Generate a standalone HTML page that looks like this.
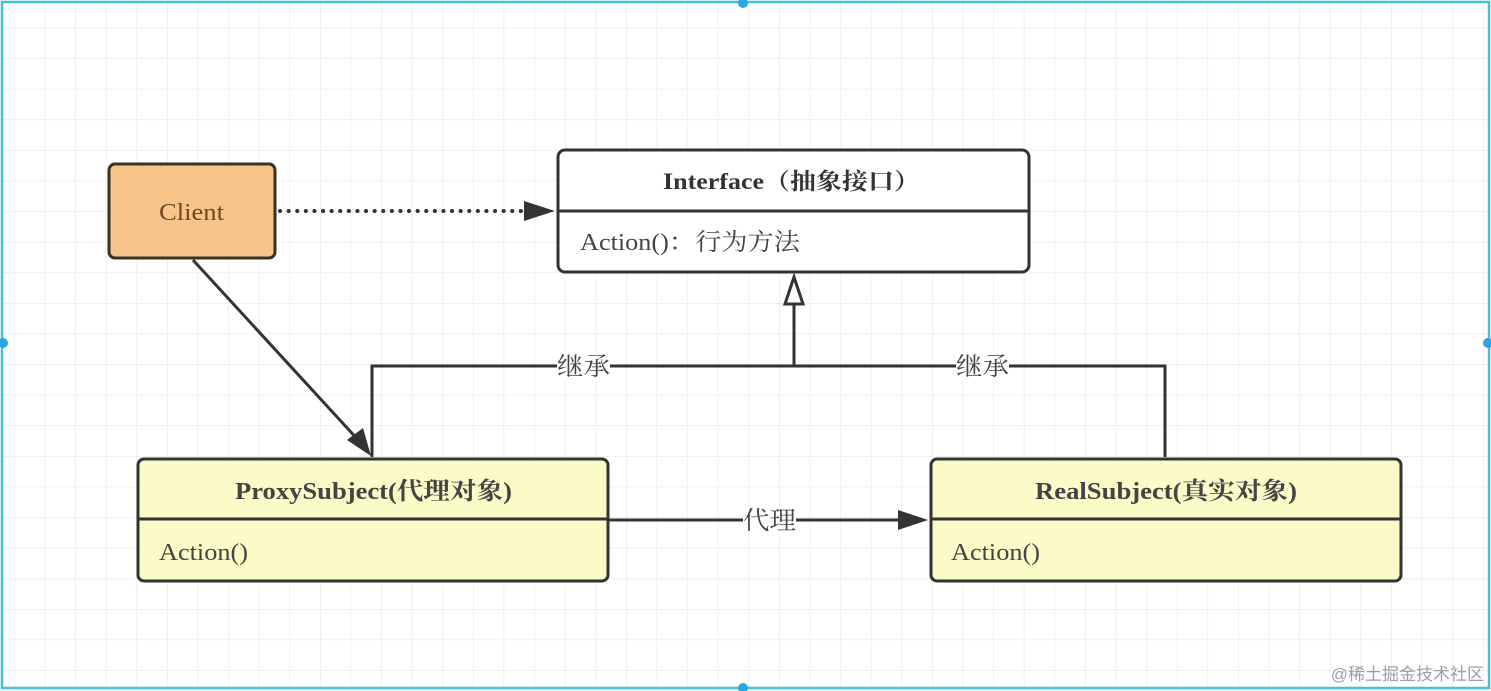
<!DOCTYPE html>
<html><head><meta charset="utf-8"><style>
html,body{margin:0;padding:0;background:#fff;}
svg{display:block;}
text{font-family:"Liberation Serif","Noto Serif CJK SC",serif;}
</style></head><body>
<svg width="1491" height="691" viewBox="0 0 1491 691" xmlns="http://www.w3.org/2000/svg">
<defs>
<pattern id="g" x="14" y="-3" width="30.6" height="30.6" patternUnits="userSpaceOnUse">
<path d="M0 0H30.6M0 0V30.6" stroke="#e6e6e6" stroke-width="1.2" fill="none"/>
</pattern>
</defs>
<rect x="0" y="0" width="1491" height="691" fill="#fff"/>
<rect x="2" y="2" width="1487" height="687" fill="url(#g)"/>
<rect x="2" y="2" width="1487" height="686" fill="none" stroke="#45c0d6" stroke-width="2.5"/>
<circle cx="743" cy="3" r="5" fill="#2aa6e0"/>
<circle cx="3" cy="343" r="5" fill="#2aa6e0"/>
<circle cx="1488" cy="343" r="5" fill="#2aa6e0"/>
<circle cx="743" cy="688" r="5" fill="#2aa6e0"/>

<g stroke="#333" stroke-width="3" fill="none">
<line x1="280" y1="211" x2="530" y2="211" stroke-dasharray="0.1 8.5" stroke-linecap="round" stroke-width="4"/>
<line x1="193" y1="260" x2="360" y2="442"/>
<polyline points="372,457 372,366 1165,366 1165,457"/>
<line x1="794" y1="366" x2="794" y2="303"/>
<line x1="608" y1="520" x2="905" y2="520"/>
</g>
<polygon points="555,211 524,201 524,221" fill="#333"/>
<polygon points="371,456 347,440 363,428" fill="#333"/>
<polygon points="928,520 898,510 898,530" fill="#333"/>
<polygon points="794,277 785,304 803,304" fill="#fff" stroke="#333" stroke-width="3"/>

<rect x="557" y="352" width="53" height="28" fill="#fff"/>
<text x="557" y="375" font-size="25" fill="#444" textLength="53" lengthAdjust="spacingAndGlyphs">继承</text>
<rect x="956" y="352" width="53" height="28" fill="#fff"/>
<text x="956" y="375" font-size="25" fill="#444" textLength="53" lengthAdjust="spacingAndGlyphs">继承</text>
<rect x="743" y="506" width="53" height="28" fill="#fff"/>
<text x="743" y="529" font-size="25" fill="#444" textLength="53" lengthAdjust="spacingAndGlyphs">代理</text>

<rect x="109" y="164" width="166" height="94" rx="6" fill="#f9c48a" stroke="#3a3226" stroke-width="3"/>
<text x="159" y="220" font-size="24" fill="#6b4a22" textLength="65" lengthAdjust="spacingAndGlyphs">Client</text>

<rect x="558" y="150" width="471" height="122" rx="7" fill="#fff" stroke="#333" stroke-width="3"/>
<line x1="558" y1="211" x2="1029" y2="211" stroke="#333" stroke-width="3"/>
<text x="663" y="189" font-size="23" font-weight="bold" fill="#333" textLength="257" lengthAdjust="spacingAndGlyphs">Interface（抽象接口）</text>
<text x="580" y="250" font-size="24" fill="#444" textLength="220" lengthAdjust="spacingAndGlyphs">Action()：行为方法</text>

<rect x="138" y="459" width="470" height="122" rx="6" fill="#fafbc7" stroke="#333" stroke-width="3"/>
<line x1="138" y1="519" x2="608" y2="519" stroke="#333" stroke-width="3"/>
<text x="235" y="499" font-size="24" font-weight="bold" fill="#444" textLength="277" lengthAdjust="spacingAndGlyphs">ProxySubject(代理对象)</text>
<text x="159" y="560" font-size="24" fill="#444" textLength="89" lengthAdjust="spacingAndGlyphs">Action()</text>

<rect x="931" y="459" width="470" height="122" rx="6" fill="#fafbc7" stroke="#333" stroke-width="3"/>
<line x1="931" y1="519" x2="1401" y2="519" stroke="#333" stroke-width="3"/>
<text x="1035" y="499" font-size="24" font-weight="bold" fill="#444" textLength="262" lengthAdjust="spacingAndGlyphs">RealSubject(真实对象)</text>
<text x="951" y="560" font-size="24" fill="#444" textLength="89" lengthAdjust="spacingAndGlyphs">Action()</text>

<text x="1484" y="680" font-size="17" fill="#9aa0a6" text-anchor="end" style="font-family:'Liberation Sans','Noto Sans CJK SC',sans-serif">@稀土掘金技术社区</text>
</svg>
</body></html>
